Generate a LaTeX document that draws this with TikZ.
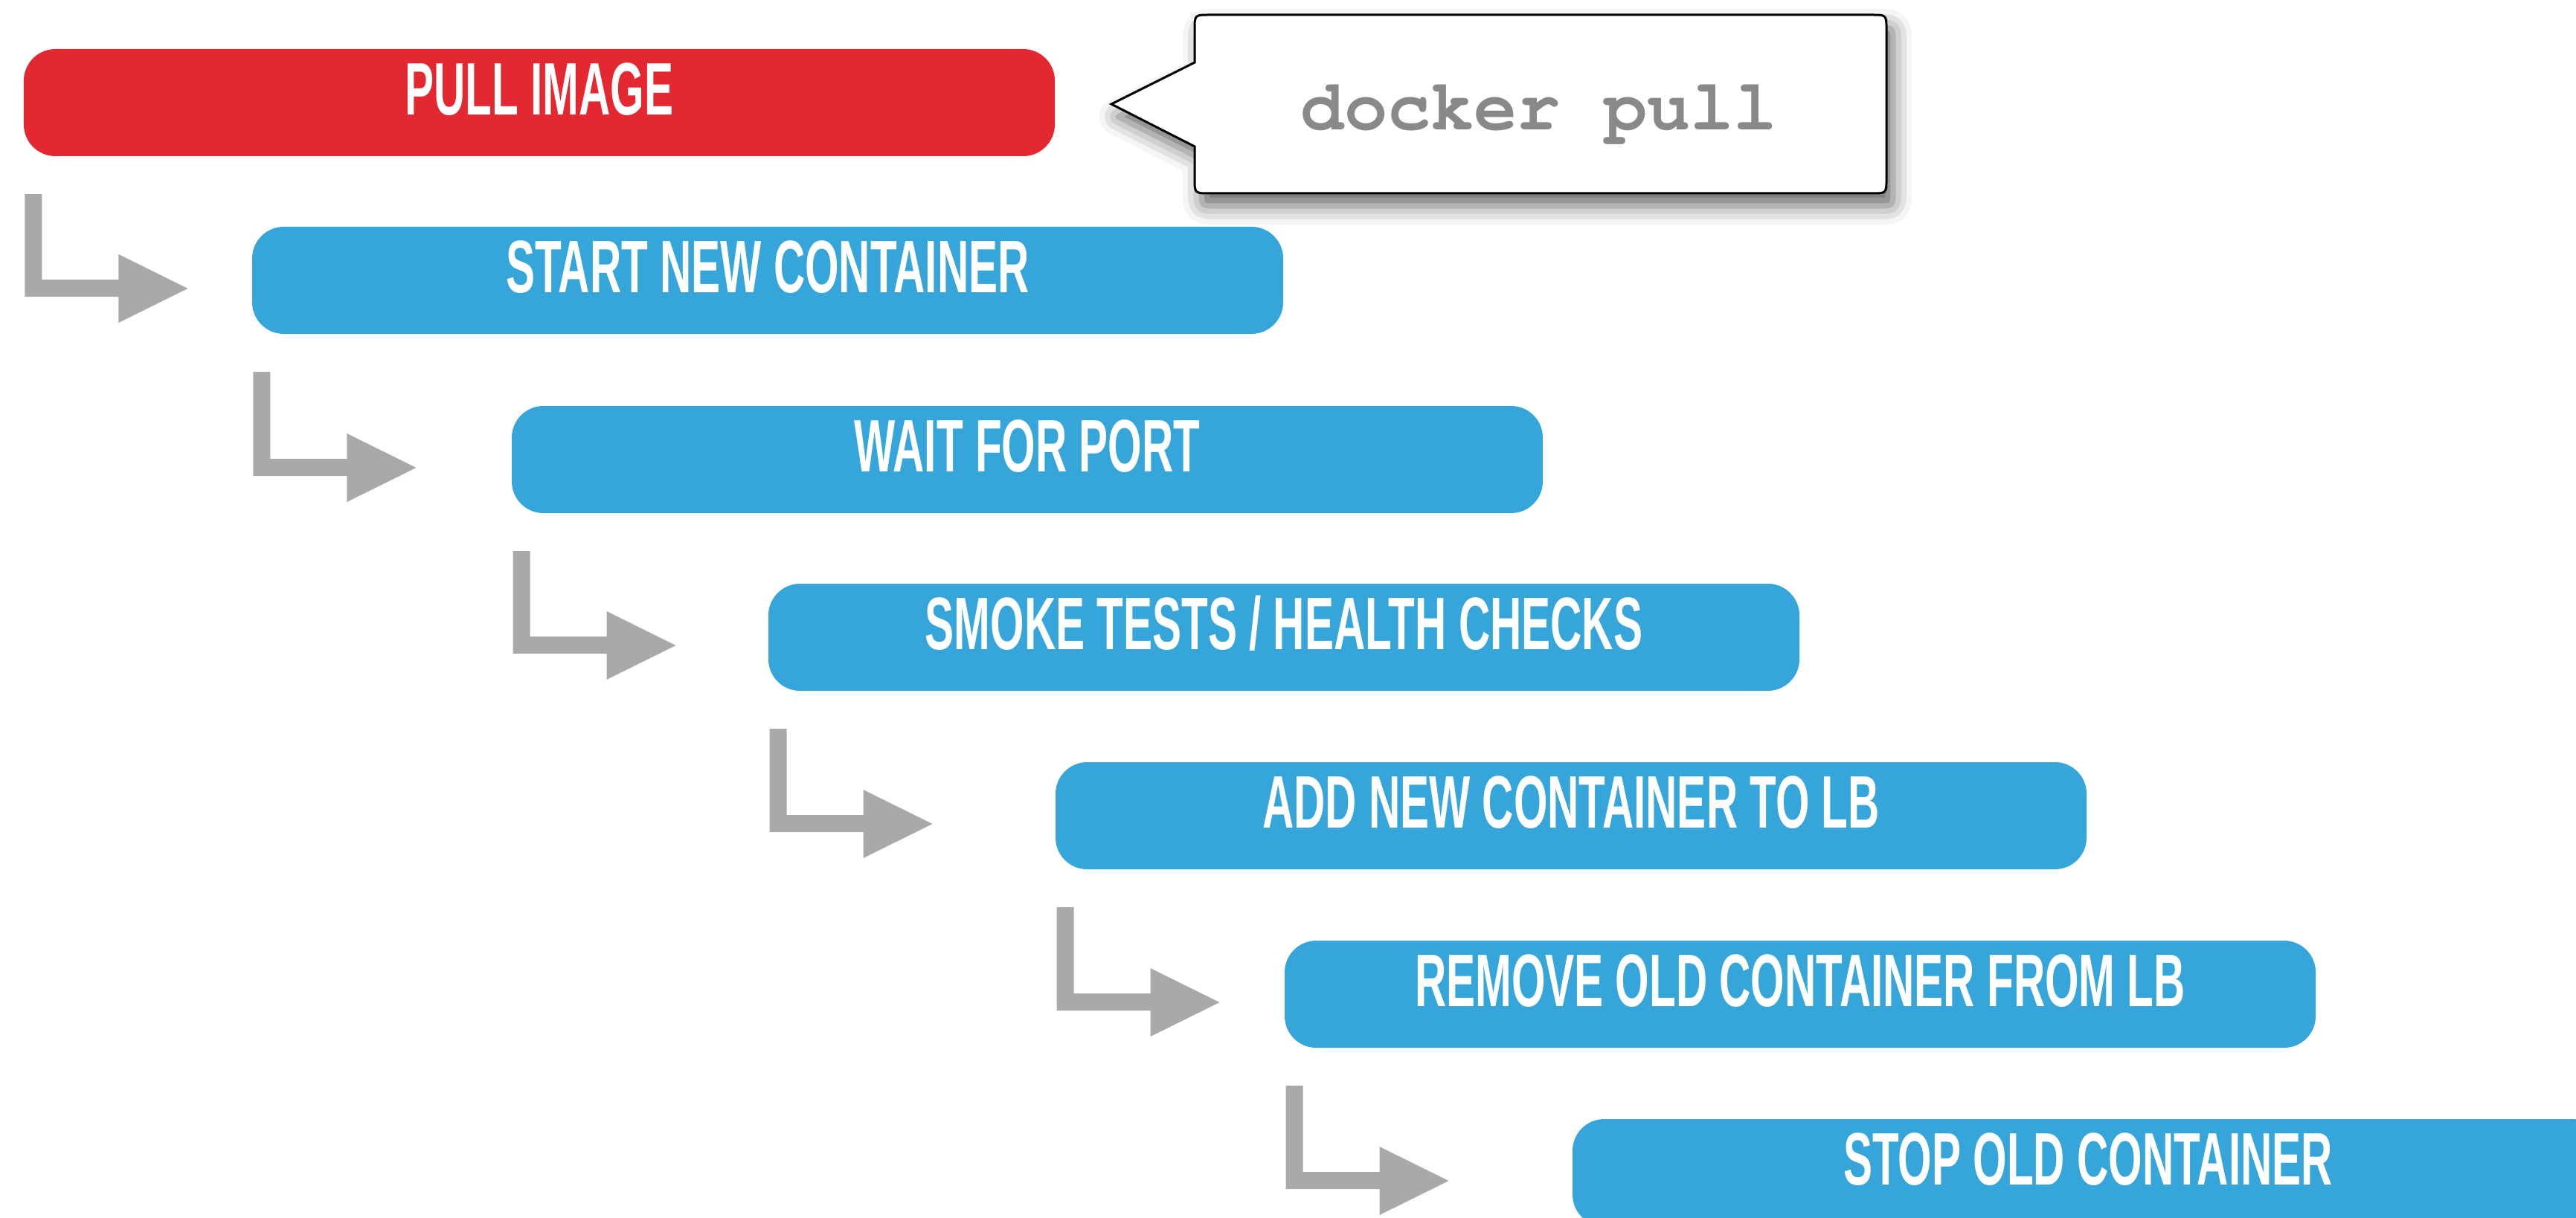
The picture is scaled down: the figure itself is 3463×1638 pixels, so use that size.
\documentclass[tikz,border=0pt]{standalone}
\usepackage{fontspec}
\newfontfamily\lblfont{Liberation Sans}[FakeStretch=0.585]
\newfontfamily\cmdfont{TeX Gyre Cursor}
\usetikzlibrary{calc,shadows.blur}
\definecolor{pullred}{RGB}{227,40,50}
\definecolor{stepblue}{RGB}{53,165,218}
\definecolor{arrowgray}{RGB}{168,170,169}
\definecolor{cmdgray}{RGB}{136,138,138}
\tikzset{
  stepbox/.style={fill=stepblue, rounded corners=8.5pt, minimum width=277.2pt,
    minimum height=28.8pt, inner sep=0pt, text=white,
    font=\lblfont\bfseries\fontsize{20}{20}\selectfont,
    text height=14.3pt, text depth=7.6pt},
  pullbox/.style={stepbox, fill=pullred},
  calloutshape/.style={draw=black, line width=0.6pt, fill=white,
    blur shadow={shadow xshift=1.8pt, shadow yshift=-3.4pt, shadow blur radius=5pt, shadow opacity=60}},
  cmdtext/.style={text=cmdgray, inner sep=0pt,
    font=\cmdfont\bfseries\fontsize{19.4}{19.4}\selectfont},
  flowarrow/.style={fill=arrowgray}
}
\newcommand\steparrow[2]{%
  \fill[flowarrow] let \p1=(#1.south west), \p2=(#2.west) in
    (\x1+0.5pt,\y1-10pt) -- (\x1+5.1pt,\y1-10pt) -- (\x1+5.1pt,\y2+0.2pt)
    -- (\x1+25.7pt,\y2+0.2pt) -- (\x1+25.7pt,\y2+7pt) -- (\x1+44.3pt,\y2-2.2pt)
    -- (\x1+25.7pt,\y2-11.4pt) -- (\x1+25.7pt,\y2-4.4pt) -- (\x1+0.5pt,\y2-4.4pt) -- cycle;}
\begin{document}
\begin{tikzpicture}[x=0.2pt,y=-0.2pt]
\useasboundingbox (0,0) rectangle (3463,1638);
\node[pullbox] (pull) at (725,138) {PULL IMAGE};
\node[stepbox] (start) at (1032,377) {START NEW CONTAINER};
\node[stepbox] (wait) at (1381,618) {WAIT FOR PORT};
\node[stepbox] (smoke) at (1726,857) {SMOKE TESTS / HEALTH CHECKS};
\node[stepbox] (add) at (2112,1097) {ADD NEW CONTAINER TO LB};
\node[stepbox] (remove) at (2420,1337) {REMOVE OLD CONTAINER FROM LB};
\node[stepbox] (stop) at (2807,1577) {STOP OLD CONTAINER};
\steparrow{pull}{start}
\steparrow{start}{wait}
\steparrow{wait}{smoke}
\steparrow{smoke}{add}
\steparrow{add}{remove}
\steparrow{remove}{stop}
\coordinate (ctip) at ([xshift=15pt,yshift=-0.4pt]pull.east);
\path[calloutshape] (ctip) -- (1606,84) -- (1606,40) .. controls (1606,20) .. (1626,20)
  -- (2516,20) .. controls (2536,20) .. (2536,40) -- (2536,240)
  .. controls (2536,260) .. (2516,260) -- (1626,260) .. controls (1606,260) .. (1606,240)
  -- (1606,197) -- cycle;
\node[cmdtext, anchor=base] (cmd) at (2069,175) {docker pull};
\end{tikzpicture}
\end{document}
